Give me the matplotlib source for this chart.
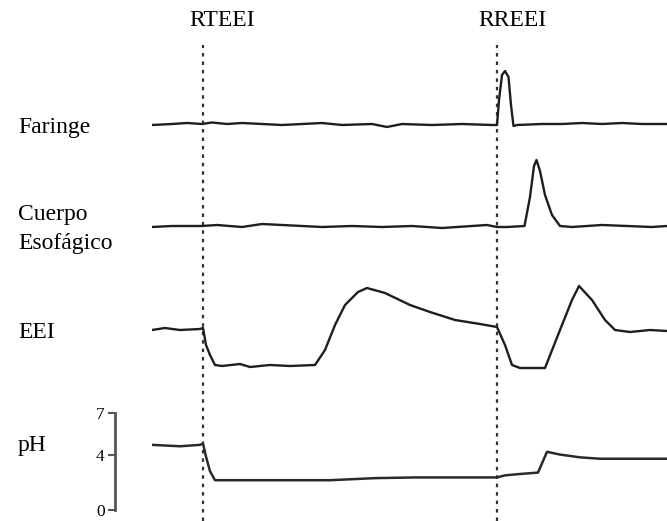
import matplotlib.pyplot as plt
import matplotlib.transforms as mtransforms

plt.rcParams['font.family'] = ['Liberation Serif', 'DejaVu Serif']

# time axis (s) and traces
far_t = [0, 4, 7, 10, 12, 15, 18, 22, 26, 30, 34, 38, 44, 47, 50, 56, 62, 68, 69, 69.4, 70, 70.6, 71.3, 71.8, 72.3, 73, 78, 82, 86, 90, 94, 98, 103]
far_v = [0, 2, 4, 2, 5, 2, 4, 2, 0, 2, 4, 0, 2, -4, 2, 0, 2, 0, 0, 50, 100, 108, 96, 40, -2, 0, 2, 2, 4, 2, 4, 2, 2]

cue_t = [0, 4, 10, 13, 18, 22, 30, 34, 40, 46, 52, 58, 64, 67, 69, 71, 74.5, 75.6, 76.4, 76.9, 77.6, 78.6, 80, 81.6, 84, 90, 95, 100, 103]
cue_v = [0, 2, 2, 4, 0, 6, 2, 0, 2, 0, 2, -2, 2, 4, 0, 0, 2, 60, 122, 134, 112, 64, 24, 2, 0, 4, 2, 0, 2]

eei_t = [0, 2.6, 5.6, 9.6, 10.2, 10.8, 11.6, 12.6, 14, 17.6, 19.6, 23.6, 27.6, 32.6, 34.6, 36.6, 38.6,
         41.2, 43, 46.6, 51.6, 55.6, 60.6, 65.6, 69, 70.6, 72, 73.6, 78.6, 81.6, 84, 85.4, 88, 90.6,
         92.6, 95.6, 99.6, 103]
eei_v = [80, 84, 80, 82, 84, 50, 30, 10, 8, 12, 6, 10, 8, 10, 40, 90, 130,
         156, 164, 154, 130, 116, 100, 92, 86, 50, 10, 4, 4, 80, 140, 168, 140, 100,
         80, 76, 80, 78]

ph_t = [0, 5.6, 9.6, 10.2, 10.8, 11.6, 12.6, 21.6, 29.6, 35.6, 44.6, 52.6, 61.6, 69, 70.6, 73.6, 77.2, 79, 81.6, 85.6, 89.6, 103]
ph_v = [4.7, 4.6, 4.7, 4.8, 3.85, 2.8, 2.15, 2.15, 2.15, 2.15, 2.3, 2.35, 2.35, 2.35, 2.5, 2.6, 2.7, 4.2, 4.0, 3.8, 3.7, 3.7]

events = [10.2, 69]
event_labels = ['RTEEI', 'RREEI']
event_label_t = [14, 72]

W, H = 667, 521
fig = plt.figure(figsize=(W / 100, H / 100), dpi=100)

left, right = 152, 667
tmax = 103
trace_col = '#1e1e1e'


def add_ax(top, bottom):
    return fig.add_axes([left / W, 1 - bottom / H, (right - left) / W, (bottom - top) / H])


def clean(ax):
    for s in ax.spines.values():
        s.set_visible(False)
    ax.set_xticks([])
    ax.set_yticks([])
    ax.set_xlim(0, tmax)
    ax.patch.set_alpha(0)


# overlay for the event lines
ov = add_ax(45, 521)
clean(ov)
ov.set_ylim(0, 1)
for e in events:
    ov.axvline(e, color='#333333', lw=1.6, linestyle=(0, (1.6, 2.2)))
trans = mtransforms.blended_transform_factory(ov.transData, fig.transFigure)
for lab, t in zip(event_labels, event_label_t):
    fig.text(t, 1 - 20 / H, lab, transform=trans, ha='center', va='center', fontsize=17)

# Faringe
ax1 = add_ax(60, 140)
clean(ax1)
ax1.set_ylim(-30, 130)
ax1.plot(far_t, far_v, color=trace_col, lw=1.7)

# Cuerpo esofagico
ax2 = add_ax(150, 242)
clean(ax2)
ax2.set_ylim(-30, 154)
ax2.plot(cue_t, cue_v, color=trace_col, lw=1.7)

# EEI
ax3 = add_ax(275, 380)
clean(ax3)
ax3.set_ylim(-20, 190)
ax3.plot(eei_t, eei_v, color=trace_col, lw=1.7)

# pH
ph0, ph7 = 510, 413  # pixel rows of pH 0 and 7
ph_px = (ph0 - ph7) / 7
ax4 = add_ax(405, 521)
ax4.set_xlim(0, tmax)
ax4.set_ylim(-(521 - ph0) / ph_px, (ph0 - 405) / ph_px)
ax4.plot(ph_t, ph_v, color='#2a2a2a', lw=1.8)
for s in ['top', 'right', 'bottom']:
    ax4.spines[s].set_visible(False)
ax4.spines['left'].set_position(('outward', 27))
ax4.spines['left'].set_bounds(0, 7)
ax4.spines['left'].set_color('#555555')
ax4.spines['left'].set_linewidth(2)
ax4.set_xticks([])
ax4.set_yticks([0, 4, 7])
ax4.tick_params(axis='y', length=5, width=1.5, color='#555555', pad=2, labelsize=12.5)
ax4.patch.set_alpha(0)

# channel labels
fig.text(18 / W, 1 - 128 / H, 'Faringe', ha='left', va='center', fontsize=17)
fig.text(18 / W, 1 - 229 / H, 'Cuerpo\nEsofágico', ha='left', va='center', fontsize=17, linespacing=1.45)
fig.text(18 / W, 1 - 333 / H, 'EEI', ha='left', va='center', fontsize=17)
fig.text(18 / W, 1 - 445 / H, 'pH', ha='left', va='center', fontsize=17)

fig.savefig('out.png', dpi=100)
